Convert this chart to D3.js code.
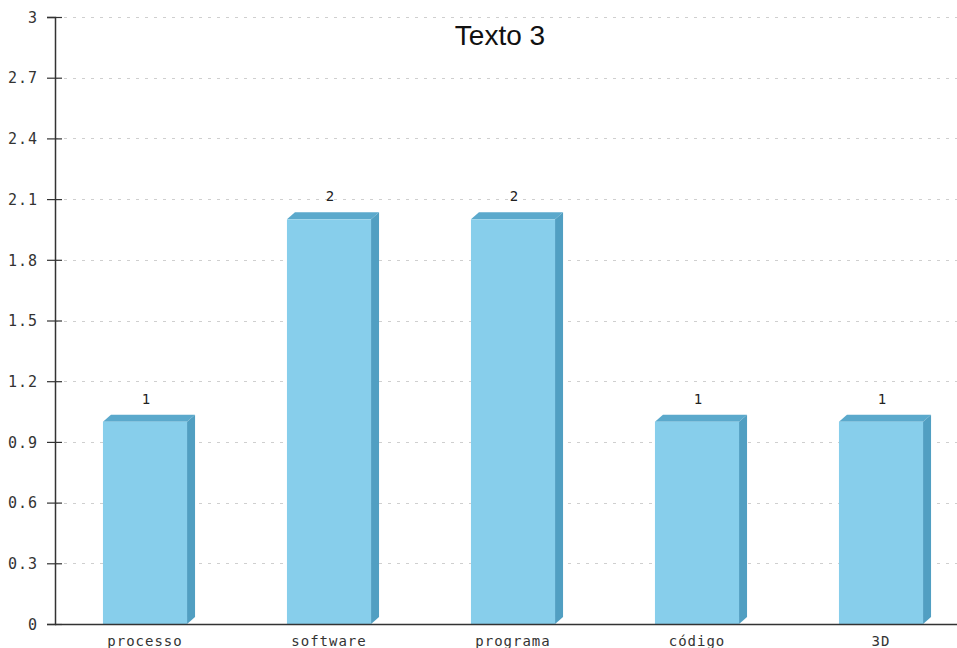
<!DOCTYPE html>
<html>
<head>
<meta charset="utf-8">
<script src="https://cdn.jsdelivr.net/npm/d3@7"></script>
<style>
  html, body { margin: 0; padding: 0; background: #fff; }
  svg { display: block; }
</style>
</head>
<body>
<svg id="chart" width="957" height="648"></svg>
<script>
// Word counts for "Texto 3"
const categories = ["processo", "software", "programa", "código", "3D"];
const counts = [1, 2, 2, 1, 1];
const yTicks = [0, 0.3, 0.6, 0.9, 1.2, 1.5, 1.8, 2.1, 2.4, 2.7, 3];
const title = "Texto 3";

const W = 957, H = 648;
const svg = d3.select("#chart");

const axisX = 55;
const y = d3.scaleLinear().domain([0, 3]).range([624, 17]);
const x = d3.scaleBand().domain(categories).range([53, 973])
  .paddingInner(0.543).paddingOuter(0.2715);

const depthX = 8, depthY = 7;
const frontColor = "#87ceeb", sideColor = "#519fc2", topColor = "#5ba9cc";
const mono = "'DejaVu Sans Mono', 'Liberation Mono', monospace";

// dashed grid lines
svg.append("g").selectAll("line").data(yTicks.filter(d => d > 0)).join("line")
  .attr("x1", axisX).attr("x2", W)
  .attr("y1", d => Math.round(y(d)) + 0.5).attr("y2", d => Math.round(y(d)) + 0.5)
  .attr("stroke", "#cfcfcf").attr("stroke-width", 1)
  .attr("stroke-dasharray", "3,6");

// 3D bars
const bars = svg.append("g").selectAll("g").data(categories).join("g");
bars.append("polygon")
  .attr("points", (c, i) => {
    const x0 = x(c), x1 = x(c) + x.bandwidth(), yt = y(counts[i]);
    return [[x0, yt], [x0 + depthX, yt - depthY], [x1 + depthX, yt - depthY], [x1, yt]].join(" ");
  })
  .attr("fill", topColor);
bars.append("polygon")
  .attr("points", (c, i) => {
    const x1 = x(c) + x.bandwidth(), yt = y(counts[i]), yb = y(0);
    return [[x1, yt], [x1 + depthX, yt - depthY], [x1 + depthX, yb - depthY], [x1, yb]].join(" ");
  })
  .attr("fill", sideColor);
bars.append("rect")
  .attr("x", c => x(c))
  .attr("y", (c, i) => y(counts[i]))
  .attr("width", x.bandwidth())
  .attr("height", (c, i) => y(0) - y(counts[i]))
  .attr("fill", frontColor);

// value labels
bars.append("text")
  .attr("x", c => x(c) + x.bandwidth() / 2 + 1)
  .attr("y", (c, i) => y(counts[i]) - 18)
  .attr("text-anchor", "middle")
  .attr("font-family", mono).attr("font-size", 14)
  .attr("fill", "#222")
  .text((c, i) => counts[i]);

// y axis
const yAxis = d3.axisLeft(y).tickValues(yTicks).tickSize(8)
  .tickFormat(d => d3.format("~g")(d));
const gy = svg.append("g").attr("transform", `translate(${axisX},0)`).call(yAxis);
gy.select(".domain").attr("stroke", "#333").attr("stroke-width", 1.5);
gy.selectAll(".tick line").attr("x2", 7).attr("x1", -8).attr("stroke", "#333").attr("stroke-width", 1.2);
gy.selectAll(".tick text").attr("x", -17).attr("dy", "0.35em")
  .attr("font-family", mono).attr("font-size", 15).attr("letter-spacing", 1)
  .attr("fill", "#333");

// x axis
const xAxis = d3.axisBottom(x).tickSize(0);
const gx = svg.append("g").attr("transform", `translate(0,${y(0)})`).call(xAxis);
gx.select(".domain").attr("d", `M${axisX},0.5H${W}`).attr("stroke", "#333").attr("stroke-width", 1.5);
gx.selectAll(".tick text").attr("y", 22).attr("dy", 0)
  .attr("font-family", mono).attr("font-size", 14).attr("letter-spacing", 1)
  .attr("fill", "#333");

// title
svg.append("text")
  .attr("x", 500).attr("y", 45)
  .attr("text-anchor", "middle")
  .attr("font-family", "Arial, 'Liberation Sans', sans-serif")
  .attr("font-size", 28)
  .attr("fill", "#111")
  .text(title);
</script>
</body>
</html>
